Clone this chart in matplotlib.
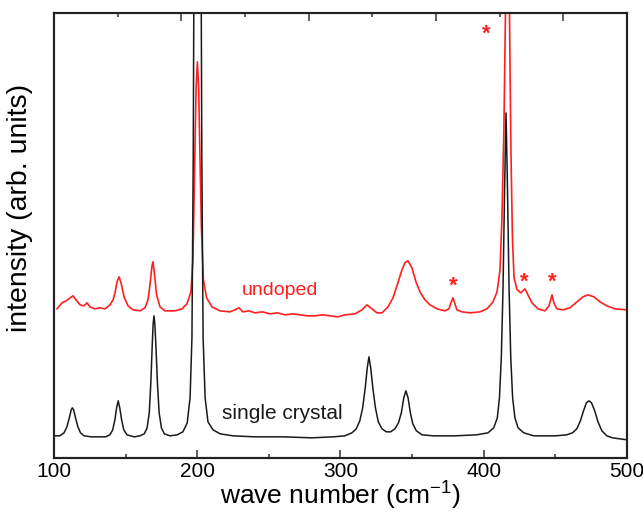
import matplotlib
matplotlib.use("Agg")
import matplotlib.pyplot as plt
from matplotlib.ticker import MultipleLocator, NullLocator

plt.rcParams['font.family'] = ['Liberation Sans', 'DejaVu Sans']
plt.rcParams['mathtext.fontset'] = 'custom'
plt.rcParams['mathtext.rm'] = 'Liberation Sans'
plt.rcParams['mathtext.default'] = 'regular'

# Raman spectra, intensity in arbitrary units (undoped curve is offset upwards)
crystal_wn = [100.5, 104, 107, 109, 110.7, 112, 112.8, 113.7, 115, 116.7, 118.5, 121, 126, 132,
              136, 139, 141, 142.5, 143.7, 144.8, 145.9, 147.2, 148.7, 151, 156,
              160, 163, 165, 166.5, 167.6, 168.5, 169.2, 169.8, 170.4, 171.2, 172.2, 173.4, 175, 177, 181,
              186, 190, 193, 195, 196.3, 197.2, 198, 200.2, 202.4, 203.2, 204.1, 205.5, 207.5, 211, 216,
              225, 240, 260, 280, 295,
              303, 308, 311, 313.5, 315.5, 317.3, 318.7, 319.9, 321.1, 322.6, 324.4, 326.4, 329, 332,
              335, 338, 340.5, 342.5, 344.2, 345.7, 347.2, 348.8, 350.5, 353, 357, 365,
              380, 395, 403, 407, 409.5, 411, 412.3, 413.5, 414.6, 415.6, 416.6, 417.7, 418.9, 420.2,
              421.8, 424, 428, 435,
              450, 458, 462, 465, 467.5, 469.7, 471.7, 473.5, 475.3, 477.5, 479.8, 482.5, 486, 490, 495, 500]
crystal_int = [22, 22, 25, 31, 40, 48, 50, 48, 40, 31, 25, 22, 21, 21,
               21, 23, 28, 38, 50, 57, 50, 38, 28, 23, 21,
               22, 24, 30, 45, 75, 110, 134, 142, 134, 110, 75, 45, 30, 24, 22,
               23, 26, 35, 60, 120, 300, 600, 1200, 600, 300, 120, 60, 36, 28, 24,
               22, 21, 21, 20, 21,
               22, 25, 29, 37, 50, 70, 90, 101, 90, 70, 50, 36, 29, 26,
               26, 29, 35, 45, 60, 67, 60, 45, 34, 27, 23, 22,
               22, 23, 25, 30, 40, 60, 100, 170, 270, 345, 270, 170, 100, 60,
               40, 30, 25, 22,
               22, 23, 25, 29, 37, 47, 55, 57, 55, 47, 36, 27, 22, 20, 19, 18]

undoped_wn = [102.1, 105.6, 108.4, 111.2, 113.3, 115.4, 118.2, 120.9, 123.0, 125.1, 128.6, 132.1,
              135.6, 139.1, 141.2, 142.6, 144.0, 145.4, 146.8, 148.9, 151.7, 155.2, 160.0, 163.5,
              165.6, 167.0, 168.4, 169.1, 170.2, 171.6, 174.0, 177.5, 184.5, 189.4, 192.8, 195.6,
              197.0, 198.4, 199.2, 200.1, 201.0, 201.8, 202.9, 204.3, 206.5, 210.3, 215.9, 222.9,
              226.4, 229.1, 231.9, 236.0, 240.3, 245.5, 250.8, 256.0, 261.3, 266.5, 271.8, 277.0,
              282.2, 287.5, 292.7, 298.0, 303.1, 310.1, 315.0, 318.5, 322.0, 325.5, 329.0, 333.2,
              336.7, 340.1, 342.9, 345.0, 347.1, 349.9, 352.7, 355.5, 359.0, 362.5, 367.4, 373.0,
              375.7, 377.1, 378.5, 379.9, 381.3, 384.8, 390.4, 397.4, 402.3, 406.5, 409.3, 411.4,
              412.7, 414.1, 415.2, 416.6, 418.0, 419.0, 420.1, 421.2, 423.3, 426.0, 428.8, 430.9,
              433.7, 437.9, 442.8, 445.6, 447.7, 449.0, 451.1, 455.3, 460.2, 465.1, 469.3, 472.8,
              477.0, 481.2, 486.0, 491.6, 500.0]
undoped_int = [149, 155, 157, 160, 162, 158, 153, 152, 155, 151, 149, 150,
               149, 153, 158, 165, 176, 181, 175, 161, 152, 148, 147, 150,
               158, 173, 192, 196, 183, 163, 151, 147, 147, 149, 154, 166,
               198, 308, 370, 396, 370, 308, 230, 178, 160, 151, 147, 146,
               148, 150, 146, 147, 145, 146, 144, 145, 143, 144, 143, 142,
               142, 143, 142, 141, 143, 144, 148, 153, 149, 145, 145, 151,
               160, 175, 188, 195, 197, 190, 176, 166, 158, 153, 149, 147,
               149, 155, 160, 154, 148, 146, 145, 146, 149, 156, 166, 188,
               238, 328, 445, 700, 445, 308, 218, 180, 168, 165, 169, 163,
               155, 149, 147, 152, 163, 155, 149, 148, 150, 156, 161, 163,
               161, 156, 152, 149, 148]

# impurity lines marked in the undoped spectrum
star_wn = [401.6, 378.5, 428.1, 447.7]
star_int = [430, 178, 182, 182]

red = '#ff1f1f'
dark = '#1a1a1a'

fig = plt.figure(figsize=(6.43, 5.15), dpi=100)
ax = fig.add_axes([0.084, 0.111, 0.891, 0.864])

ax.plot(undoped_wn, undoped_int, color=red, lw=1.2)
ax.plot(crystal_wn, crystal_int, color=dark, lw=1.1)

for x, y in zip(star_wn, star_int):
    ax.annotate('*', (x, y), xytext=(0, -8.5), textcoords='offset points',
                ha='center', va='baseline', color=red, fontsize=16, fontweight='bold')

ax.text(231, 167, 'undoped', color=red, fontsize=14, ha='left', va='center')
ax.text(217, 44, 'single crystal', color=dark, fontsize=15, ha='left', va='center')

ax.set_xlim(100, 500)
ax.set_ylim(0, 445)
ax.xaxis.set_major_locator(MultipleLocator(100))
ax.xaxis.set_minor_locator(MultipleLocator(50))
ax.yaxis.set_major_locator(NullLocator())
ax.tick_params(axis='x', which='both', direction='in', top=False, width=1.1, color='#333333',
               labelsize=15, pad=3)
ax.tick_params(axis='x', which='major', length=6)
ax.tick_params(axis='x', which='minor', length=3)

# top axis carries its own unlabelled tick scale
ax2 = ax.twiny()
ax2.set_xlim(0, 4.5)
ax2.xaxis.set_major_locator(MultipleLocator(1))
ax2.xaxis.set_minor_locator(MultipleLocator(0.5))
ax2.tick_params(axis='x', which='both', direction='in', labeltop=False, bottom=False,
                width=1.1, color='#333333')
ax2.tick_params(axis='x', which='major', length=6)
ax2.tick_params(axis='x', which='minor', length=3)

for a in (ax, ax2):
    for s in a.spines.values():
        s.set_linewidth(1.5)
        s.set_color('#222222')

ax.set_xlabel('wave number (cm$^{-1}$)', fontsize=19)
ax.xaxis.set_label_coords(0.5, -0.05)
ax.set_ylabel('intensity (arb. units)', fontsize=20.5)
ax.yaxis.set_label_coords(-0.036, 0.562)

fig.savefig('out.png', dpi=100)
